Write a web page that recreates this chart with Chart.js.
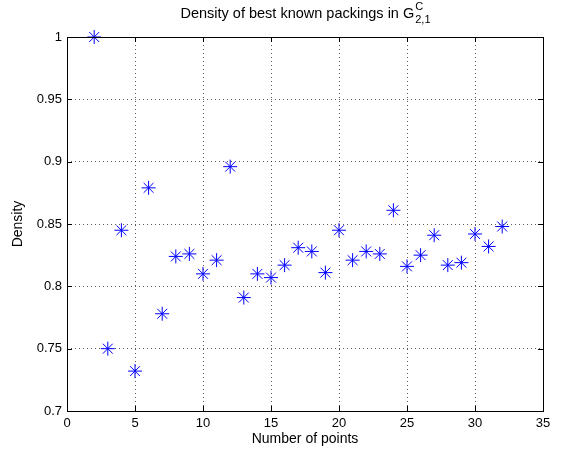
<!DOCTYPE html>
<html>
<head>
<meta charset="utf-8">
<script src="https://cdn.jsdelivr.net/npm/chart.js@4/dist/chart.umd.min.js"></script>
<style>
  html, body { margin: 0; padding: 0; background: #fff; }
  #wrap { width: 567px; height: 455px; }
</style>
</head>
<body>
<div id="wrap"><canvas id="c" width="567" height="455"></canvas></div>
<script>
// number of points in the packing
const numPoints = [2, 3, 4, 5, 6, 7, 8, 9, 10, 11, 12, 13, 14, 15, 16, 17,
  18, 19, 20, 21, 22, 23, 24, 25, 26, 27, 28, 29, 30, 31, 32];
// density of the best known packing
const density = [1.0, 0.750, 0.845, 0.732, 0.879, 0.778, 0.824, 0.826, 0.810, 0.821,
  0.896, 0.791, 0.810, 0.807, 0.817, 0.831, 0.828, 0.811, 0.845, 0.821,
  0.828, 0.826, 0.861, 0.816, 0.825, 0.841, 0.817, 0.819, 0.842, 0.832, 0.848];
const xTicks = [0, 5, 10, 15, 20, 25, 30, 35];
const yTicks = [0.7, 0.75, 0.8, 0.85, 0.9, 0.95, 1];

const FONT = '"Liberation Sans", Arial, Helvetica, sans-serif';

// box, inward ticks, title and axis labels in the matlab style
const matlabFrame = {
  id: 'matlabFrame',
  afterDraw(chart) {
    const ctx = chart.ctx;
    const a = chart.chartArea;
    const xs = chart.scales.x, ys = chart.scales.y;
    ctx.save();
    ctx.strokeStyle = '#000';
    ctx.lineWidth = 1;
    ctx.strokeRect(Math.round(a.left) + 0.5, Math.round(a.top) + 0.5,
      Math.round(a.right - a.left), Math.round(a.bottom - a.top));
    ctx.beginPath();
    xTicks.forEach(v => {
      const px = Math.round(xs.getPixelForValue(v)) + 0.5;
      ctx.moveTo(px, a.bottom); ctx.lineTo(px, a.bottom - 5);
      ctx.moveTo(px, a.top); ctx.lineTo(px, a.top + 5);
    });
    yTicks.forEach(v => {
      const py = Math.round(ys.getPixelForValue(v)) + 0.5;
      ctx.moveTo(a.left, py); ctx.lineTo(a.left + 5, py);
      ctx.moveTo(a.right, py); ctx.lineTo(a.right - 5, py);
    });
    ctx.stroke();

    ctx.fillStyle = '#000';
    ctx.textBaseline = 'middle';
    // title with super/subscript
    const cx = (a.left + a.right) / 2;
    ctx.font = '14.5px ' + FONT;
    const main = 'Density of best known packings in G';
    const wMain = ctx.measureText(main).width;
    ctx.font = '11px ' + FONT;
    const wSub = ctx.measureText('2,1').width;
    let x0 = cx - (wMain + wSub) / 2;
    ctx.font = '14.5px ' + FONT;
    ctx.textAlign = 'left';
    ctx.fillText(main, x0, 14);
    ctx.font = '11px ' + FONT;
    ctx.fillText('C', x0 + wMain + 1, 7);
    ctx.fillText('2,1', x0 + wMain + 1, 20);

    // axis titles
    ctx.font = '14px ' + FONT;
    ctx.textAlign = 'center';
    ctx.fillText('Number of points', cx, 439);
    ctx.translate(18, (a.top + a.bottom) / 2);
    ctx.rotate(-Math.PI / 2);
    ctx.fillText('Density', 0, 0);
    ctx.restore();
  }
};

new Chart(document.getElementById('c'), {
  type: 'scatter',
  data: {
    datasets: [{
      label: 'Density',
      data: numPoints.map((n, i) => ({ x: n, y: density[i] })),
      pointStyle: 'star',
      radius: 7,
      hoverRadius: 7,
      borderColor: '#0000ff',
      backgroundColor: '#0000ff',
      borderWidth: 1,
      clip: false
    }]
  },
  options: {
    responsive: false,
    animation: false,
    events: [],
    layout: { padding: { left: 0, right: 24, top: 37, bottom: 0 } },
    plugins: { legend: { display: false }, tooltip: { enabled: false } },
    scales: {
      x: {
        type: 'linear',
        min: 0, max: 35,
        afterBuildTicks: s => { s.ticks = xTicks.map(v => ({ value: v })); },
        afterFit: s => { s.height = 44; },
        grid: { color: 'rgba(0,0,0,0.65)', drawTicks: false, lineWidth: 1 },
        border: { display: false, dash: [1, 3] },
        ticks: { color: '#000', padding: 5, font: { family: FONT, size: 13 },
          callback: v => String(v) }
      },
      y: {
        type: 'linear',
        min: 0.7, max: 1,
        afterBuildTicks: s => { s.ticks = yTicks.map(v => ({ value: v })); },
        afterFit: s => { s.width = 67; },
        grid: { color: 'rgba(0,0,0,0.65)', drawTicks: false, lineWidth: 1 },
        border: { display: false, dash: [1, 3] },
        ticks: { color: '#000', padding: 5, font: { family: FONT, size: 13 },
          callback: v => String(+v.toFixed(2)) }
      }
    }
  },
  plugins: [matlabFrame]
});
</script>
</body>
</html>
